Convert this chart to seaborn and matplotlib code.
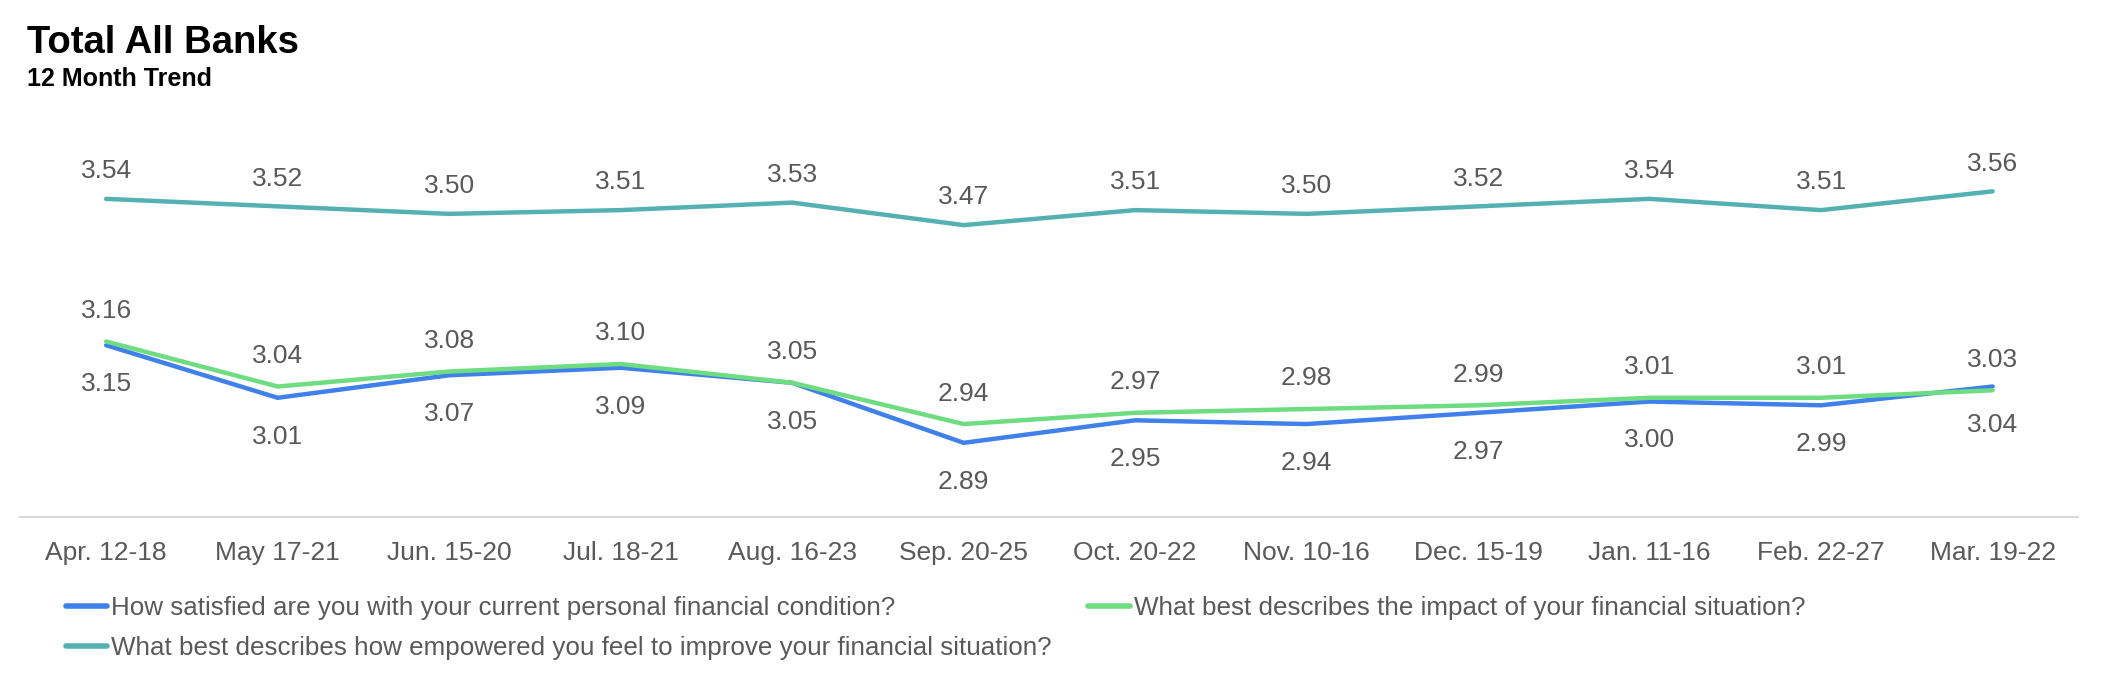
import pandas as pd
import matplotlib.pyplot as plt
import seaborn as sns

# data
periods = ["Apr. 12-18", "May 17-21", "Jun. 15-20", "Jul. 18-21", "Aug. 16-23", "Sep. 20-25",
           "Oct. 20-22", "Nov. 10-16", "Dec. 15-19", "Jan. 11-16", "Feb. 22-27", "Mar. 19-22"]
satisfied = [3.15, 3.01, 3.07, 3.09, 3.05, 2.89, 2.95, 2.94, 2.97, 3.00, 2.99, 3.04]
impact = [3.16, 3.04, 3.08, 3.10, 3.05, 2.94, 2.97, 2.98, 2.99, 3.01, 3.01, 3.03]
empowered = [3.54, 3.52, 3.50, 3.51, 3.53, 3.47, 3.51, 3.50, 3.52, 3.54, 3.51, 3.56]

series_names = ["How satisfied are you with your current personal financial condition?",
                "What best describes the impact of your financial situation?",
                "What best describes how empowered you feel to improve your financial situation?"]
colors = ["#3F80EA", "#6EDC80", "#55B0B1"]

df = pd.DataFrame({"period": periods, "x": range(len(periods)),
                   series_names[0]: satisfied,
                   series_names[1]: impact,
                   series_names[2]: empowered})
long_df = df.melt(id_vars=["period", "x"], var_name="series", value_name="score")

sns.set_style("white")
plt.rcParams['font.family'] = ['Liberation Sans', 'DejaVu Sans']
text_grey = "#595959"

fig = plt.figure(figsize=(21.26, 6.76), dpi=100)
ax = fig.add_axes([0.0096, 0.235, 0.968, 0.573])

sns.lineplot(data=long_df, x="x", y="score", hue="series", hue_order=series_names,
             palette=colors, linewidth=3.2, ax=ax, legend=False, sort=False)

# value labels: green and teal above, blue below
for i in range(len(periods)):
    ax.annotate(f"{impact[i]:.2f}", (i, impact[i]), xytext=(0, 22), textcoords="offset points",
                ha="center", va="center", fontsize=19, color=text_grey)
    ax.annotate(f"{satisfied[i]:.2f}", (i, satisfied[i]), xytext=(0, -28), textcoords="offset points",
                ha="center", va="center", fontsize=19, color=text_grey)
    ax.annotate(f"{empowered[i]:.2f}", (i, empowered[i]), xytext=(0, 20), textcoords="offset points",
                ha="center", va="center", fontsize=19, color=text_grey)

ax.set_xlim(-0.5, 11.5)
ax.set_ylim(2.692, 3.724)
ax.set_xticks(range(len(periods)))
ax.set_xticklabels(periods, fontsize=19, color=text_grey)
ax.set_yticks([])
ax.tick_params(axis="x", length=0, pad=17.5)
ax.set_xlabel("")
ax.set_ylabel("")
for side in ["top", "right", "left"]:
    ax.spines[side].set_visible(False)
ax.spines["bottom"].set_color("#D9D9D9")
ax.spines["bottom"].set_linewidth(1.5)

# legend: blue / teal in first column, green in second
handles = [plt.Line2D([], [], color=colors[k], linewidth=4) for k in (0, 2, 1)]
labels = [series_names[k] for k in (0, 2, 1)]
leg = fig.legend(handles, labels, ncol=2, loc="upper left", bbox_to_anchor=(0.031, 0.118),
                 frameon=False, fontsize=18.7, handlelength=1.6, handletextpad=0.15,
                 columnspacing=1.4, labelspacing=0.62, borderaxespad=0, borderpad=0)
for t in leg.get_texts():
    t.set_color(text_grey)

fig.text(0.0125, 0.922, "Total All Banks", fontsize=27.5, fontweight="bold", color="black")
fig.text(0.0125, 0.873, "12 Month Trend", fontsize=18, fontweight="bold", color="black")

fig.savefig("out.png", dpi=100)
